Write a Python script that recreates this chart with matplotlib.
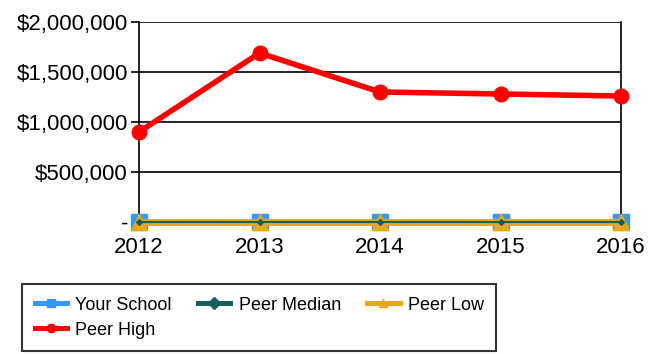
import matplotlib
matplotlib.use("Agg")
import matplotlib.pyplot as plt
from matplotlib.ticker import FuncFormatter

plt.rcParams['font.family'] = ['Liberation Sans', 'DejaVu Sans']

years = [2012, 2013, 2014, 2015, 2016]
your_school = [0, 0, 0, 0, 0]
peer_median = [0, 0, 0, 0, 0]
peer_low = [0, 0, 0, 0, 0]
peer_high = [900000, 1690000, 1300000, 1280000, 1260000]
y_ticks = [0, 500000, 1000000, 1500000, 2000000]

W, H = 648, 354
fig = plt.figure(figsize=(W / 100, H / 100), dpi=100)
ax = fig.add_axes([139 / W, 1 - 222 / H, (621 - 139) / W, (222 - 22) / H])

ax.plot(years, your_school, color='#3399FF', lw=4, marker='s', ms=12,
        label='Your School', zorder=3, clip_on=False)
ax.plot(years, peer_low, color='#E8A910', lw=5, marker='^', ms=11,
        label='Peer Low', zorder=4, clip_on=False)
ax.plot(years, peer_median, color='#14605A', lw=1.5, marker='D', ms=3,
        label='Peer Median', zorder=5, clip_on=False)
ax.plot(years, peer_high, color='#FF0000', lw=4, marker='o', ms=10.5,
        label='Peer High', zorder=6, clip_on=False)

ax.set_xlim(years[0], years[-1])
ax.set_ylim(0, 2000000)
ax.set_yticks(y_ticks)
ax.yaxis.set_major_formatter(FuncFormatter(lambda v, p: '-' if v == 0 else f'${v:,.0f}'))
ax.set_xticks(years)
ax.grid(axis='y', color='black', lw=1.2)
ax.set_axisbelow(True)
for s in ['left', 'right']:
    ax.spines[s].set_color('black')
    ax.spines[s].set_linewidth(1.2)
ax.spines['top'].set_visible(False)
ax.spines['bottom'].set_visible(False)
ax.tick_params(axis='y', length=6, width=1.2, labelsize=16, pad=2)
ax.tick_params(axis='x', length=0, labelsize=16, pad=11)

# legend laid out row by row: Your School, Peer Median, Peer Low / Peer High
handles, labels = ax.get_legend_handles_labels()
hmap = dict(zip(labels, handles))
order = ['Your School', 'Peer High', 'Peer Median', 'Peer Low']
leg = fig.legend([hmap[k] for k in order], order, loc='upper left',
                 bbox_to_anchor=(22 / W, 1 - 284 / H), ncol=3, fontsize=13,
                 frameon=True, fancybox=False, edgecolor='black',
                 handlelength=1.8, handletextpad=0.45, columnspacing=1.45,
                 borderpad=0.7, labelspacing=0.45, markerscale=0.5,
                 borderaxespad=0)
leg.get_frame().set_linewidth(1.5)
for line in leg.get_lines():
    line.set_linewidth(3.6)
    line.set_markersize(6)

fig.savefig('out.png', dpi=100)
